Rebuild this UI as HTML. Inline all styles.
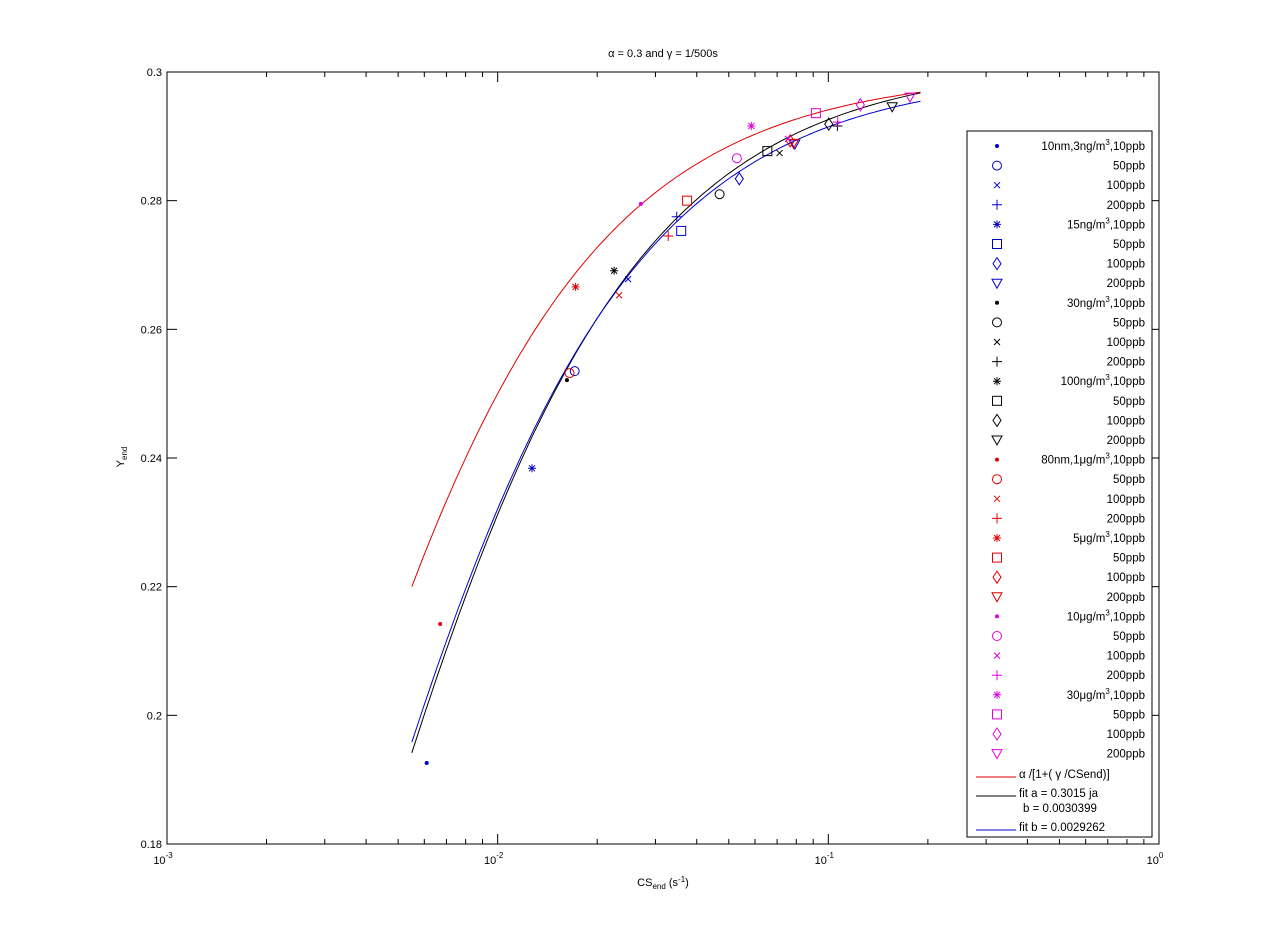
<!DOCTYPE html>
<html><head><meta charset="utf-8">
<style>
html,body{margin:0;padding:0;background:#fff;}
svg{display:block;font-family:"Liberation Sans",Arial,sans-serif;}
</style></head>
<body>
<svg id="chart" width="1281" height="948" viewBox="0 0 1281 948" xmlns="http://www.w3.org/2000/svg">
<rect x="0" y="0" width="1281" height="948" fill="#fff"/>
<text x="663" y="57" font-size="11" text-anchor="middle">α = 0.3 and γ = 1/500s</text>
<text x="663" y="886" font-size="11" text-anchor="middle">CS<tspan font-size="8" dy="3">end</tspan><tspan dy="-3"> (s</tspan><tspan font-size="8" dy="-4">-1</tspan><tspan dy="4">)</tspan></text>
<text transform="translate(124,457) rotate(-90)" font-size="11" text-anchor="middle">Y<tspan font-size="8" dy="3">end</tspan></text>
<g id="axes"></g>
<g id="curves"></g>
<g id="points"></g>
<g id="legend"></g>
</svg>
<script>
const xTickExps = [-3, -2, -1, 0];
const yTicks = [0.18, 0.2, 0.22, 0.24, 0.26, 0.28, 0.3];
const yTickLabels = ["0.18", "0.2", "0.22", "0.24", "0.26", "0.28", "0.3"];
const curveAlpha = [0.3, 0.3015, 0.3];
const curveGamma = [0.002, 0.0030399, 0.0029262];
const curveColors = ["#e00000", "#000000", "#0000cc"];
const curveRange = [0.0055, 0.19];
const pointX = [0.0061,0.0171,0.0248,0.0348,0.0127,0.0359,0.0538,0.0792,
  0.0162,0.0469,0.0712,0.1065,0.0225,0.0654,0.1003,0.156,
  0.0067,0.0165,0.0233,0.0328,0.0172,0.0374,0.0767,0.0785,
  0.0271,0.0529,0.0755,0.1068,0.0585,0.0917,0.125,0.1766];
const pointY = [0.1926,0.2535,0.2678,0.2775,0.2384,0.2753,0.2834,0.2888,
  0.2521,0.281,0.2874,0.2916,0.2691,0.2877,0.2919,0.2946,
  0.2142,0.2532,0.2653,0.2745,0.2666,0.28,0.2893,0.2889,
  0.2795,0.2866,0.2896,0.2922,0.2916,0.2936,0.2949,0.2961];
const groupColors = ["#0000cc","#000000","#e00000","#e000e0"];
const markerTypes = ["dot","circle","x","plus","star","square","diamond","tri"];
const legendLabels = ["10nm,3ng/m|3|,10ppb","50ppb","100ppb","200ppb","15ng/m|3|,10ppb","50ppb","100ppb","200ppb",
 "30ng/m|3|,10ppb","50ppb","100ppb","200ppb","100ng/m|3|,10ppb","50ppb","100ppb","200ppb",
 "80nm,1μg/m|3|,10ppb","50ppb","100ppb","200ppb","5μg/m|3|,10ppb","50ppb","100ppb","200ppb",
 "10μg/m|3|,10ppb","50ppb","100ppb","200ppb","30μg/m|3|,10ppb","50ppb","100ppb","200ppb"];

const L=167,R=1159,T=72,B=844;
const NS="http://www.w3.org/2000/svg";
const xs=v=>L+(Math.log10(v)+3)/3*(R-L);
const ys=v=>B-(v-0.18)/0.12*(B-T);
function mk(tag,attrs,parent){const e=document.createElementNS(NS,tag);for(const k in attrs)e.setAttribute(k,attrs[k]);parent.appendChild(e);return e;}

const ax=document.getElementById('axes');
const box=mk('rect',{x:L,y:T,width:R-L,height:B-T,fill:'none',stroke:'#000','stroke-width':1},ax);


xTickExps.forEach((e,i)=>{
  const x=xs(Math.pow(10,e));
  mk('line',{x1:x,y1:B,x2:x,y2:B-10,stroke:'#000'},ax);
  mk('line',{x1:x,y1:T,x2:x,y2:T+10,stroke:'#000'},ax);
  const t=mk('text',{x:x-4,y:B+20,'font-size':11,'text-anchor':'middle'},ax);
  
  
  t.textContent='10';
  const s=mk('tspan',{'font-size':8,dy:-6},t); s.textContent=String(e);
  if(i<xTickExps.length-1){
    for(let m=2;m<=9;m++){
      const xm=xs(m*Math.pow(10,e));
      mk('line',{x1:xm,y1:B,x2:xm,y2:B-5,stroke:'#000'},ax);
      mk('line',{x1:xm,y1:T,x2:xm,y2:T+5,stroke:'#000'},ax);
    }
  }
});
yTicks.forEach((v,i)=>{
  const y=ys(v);
  mk('line',{x1:L,y1:y,x2:L+10,y2:y,stroke:'#000'},ax);
  mk('line',{x1:R,y1:y,x2:R-10,y2:y,stroke:'#000'},ax);
  const t=mk('text',{x:L-5,y:y+4,'font-size':11,'text-anchor':'end'},ax);
  
  
  t.textContent=yTickLabels[i];
});

const cg=document.getElementById('curves');
curveAlpha.forEach((a,i)=>{
  let d='';
  const l0=Math.log10(curveRange[0]),l1=Math.log10(curveRange[1]);
  for(let k=0;k<=120;k++){
    const x=Math.pow(10,l0+(l1-l0)*k/120);
    const y=a/(1+curveGamma[i]/x);
    d+=(k?'L':'M')+xs(x).toFixed(1)+','+ys(y).toFixed(1);
  }
  const p=mk('path',{d:d,fill:'none',stroke:curveColors[i],'stroke-width':1},cg);
  
  
});

function marker(type,cx,cy,color,parent){
  const g=mk('g',{stroke:color,fill:'none','stroke-width':1},parent);
  if(type==='dot'){mk('circle',{cx:cx,cy:cy,r:2,fill:color,stroke:'none'},g);}
  else if(type==='circle'){mk('circle',{cx:cx,cy:cy,r:4.5},g);}
  else if(type==='x'){mk('path',{d:`M${cx-3},${cy-3}L${cx+3},${cy+3}M${cx-3},${cy+3}L${cx+3},${cy-3}`},g);}
  else if(type==='plus'){mk('path',{d:`M${cx-5},${cy}L${cx+5},${cy}M${cx},${cy-5}L${cx},${cy+5}`},g);}
  else if(type==='star'){mk('path',{d:`M${cx-4},${cy}L${cx+4},${cy}M${cx},${cy-4}L${cx},${cy+4}M${cx-3},${cy-3}L${cx+3},${cy+3}M${cx-3},${cy+3}L${cx+3},${cy-3}`},g);}
  else if(type==='square'){mk('rect',{x:cx-4.5,y:cy-4.5,width:9,height:9},g);}
  else if(type==='diamond'){mk('path',{d:`M${cx},${cy-6}L${cx+4},${cy}L${cx},${cy+6}L${cx-4},${cy}Z`},g);}
  else if(type==='tri'){mk('path',{d:`M${cx-5},${cy-4}L${cx+5},${cy-4}L${cx},${cy+5}Z`},g);}
  return g;
}
const pg=document.getElementById('points');
pointX.forEach((v,i)=>{
  const g=marker(markerTypes[i%8],xs(v),ys(pointY[i]),groupColors[Math.floor(i/8)],pg);
  
  
});

const lg=document.getElementById('legend');
const lb=mk('rect',{x:967,y:131,width:185,height:706,fill:'#fff',stroke:'#000'},lg);


legendLabels.forEach((lab,i)=>{
  const y=146+i*19.6;
  marker(markerTypes[i%8],997,y,groupColors[Math.floor(i/8)],lg);
  const parts=lab.split('|');
  const t=mk('text',{x:1145,y:y+4,'font-size':11.5,'text-anchor':'end'},lg);
  
  
  if(parts.length===3){
    t.textContent=parts[0];
    const s=mk('tspan',{'font-size':8,dy:-5},t);s.textContent=parts[1];
    const r=mk('tspan',{dy:5},t);r.textContent=parts[2];
  } else t.textContent=lab;
});
const lineLabels=[["α /[1+( γ /CSend)]",774],["fit a = 0.3015 ja",793],["fit b = 0.0029262",827]];
lineLabels.forEach((ll,i)=>{
  mk('line',{x1:976,y1:ll[1]+3,x2:1016,y2:ll[1]+3,stroke:curveColors[i]},lg);
  const t=mk('text',{x:1019,y:ll[1]+4,'font-size':11.5},lg);
  
  
  t.textContent=ll[0];
});
const t2=mk('text',{x:1023,y:812,'font-size':11.5},lg);


t2.textContent='b = 0.0030399';
</script>
</body></html>
